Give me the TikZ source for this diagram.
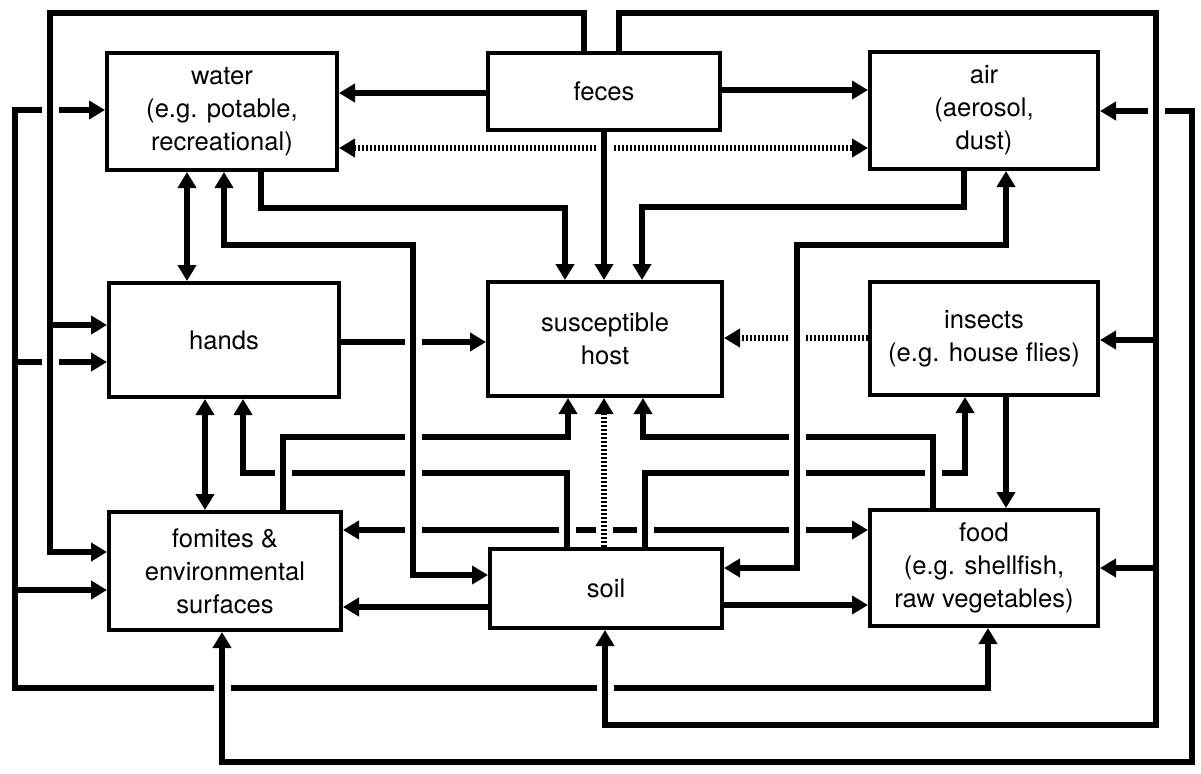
\documentclass[tikz,border=0pt]{standalone}
\usepackage{fontspec}
\setmainfont{TeX Gyre Heros}
\usetikzlibrary{arrows.meta,backgrounds}

\tikzset{
  box/.style={draw, line width=2pt, inner sep=0pt, align=center,
    font=\fontsize{12.8}{16.5}\selectfont},
  link/.style={line width=3pt, -{Triangle[length=8pt,width=9pt]}},
  twolink/.style={line width=3pt, {Triangle[length=8pt,width=9pt]}-{Triangle[length=8pt,width=9pt]}},
  dots/.style={dash pattern=on 1pt off 1pt},
  bridge/.style={preaction={draw, white, line width=8.5pt, -}},
}

\begin{document}
\begin{tikzpicture}[x=0.5pt,y=-0.5pt]
\useasboundingbox (0,0) rectangle (1201,773);

    \node[box, minimum width=115pt, minimum height=58.5pt] (water) at (222,111.5) {water\\(e.g. potable,\\recreational)};
    \node[box, minimum width=116pt, minimum height=38.5pt] (feces) at (604,91.5) {feces};
    \node[box, minimum width=114pt, minimum height=58.5pt] (air) at (984,110.5) {air\\(aerosol,\\dust)};
    \node[box, minimum width=115pt, minimum height=57pt] (hands) at (224,340) {hands};
    \node[box, minimum width=117pt, minimum height=57pt] (host) at (605,339) {susceptible\\host};
    \node[box, minimum width=114pt, minimum height=56.5pt] (insects) at (984,338.5) {insects\\(e.g. house flies)};
    \node[box, minimum width=116pt, minimum height=59pt] (fomites) at (225,571) {fomites \&\\environmental\\surfaces};
    \node[box, minimum width=116pt, minimum height=39.5pt] (soil) at (606,588.5) {soil};
    \node[box, minimum width=114pt, minimum height=58pt] (food) at (984,568) {food\\(e.g. shellfish,\\raw vegetables)};

\begin{scope}[on background layer]
    % outer loops
    \draw[twolink] (water.west |- 0,110) -- (15,110) -- (15,688) -- (988,688) -- (food.south -| 988,0);
    \draw[link] (15,362) -- (hands.west |- 0,362);
    \draw[link] (15,590) -- (fomites.west |- 0,590);
    \draw[twolink, bridge] (fomites.south -| 222,0) -- (222,762) -- (1192,762) -- (1192,111) -- (air.east |- 0,111);
    \draw[link, bridge] (feces.north -| 619,0) -- (619,13) -- (1156,13) -- (1156,725) -- (605,725) -- (soil.south -| 605,0);
    \draw[link] (1156,340) -- (insects.east |- 0,340);
    \draw[link] (1156,568) -- (food.east |- 0,568);
    \draw[link, bridge] (feces.north -| 584,0) -- (584,13) -- (50,13) -- (50,552) -- (fomites.west |- 0,552);
    \draw[link] (50,325) -- (hands.west |- 0,325);

    % feces
    \draw[link] (feces.west |- 0,93) -- (water.east |- 0,93);
    \draw[link] (feces.east |- 0,90) -- (air.west |- 0,90);
    \draw[twolink, dots] (water.east |- 0,148) -- (air.west |- 0,148);
    \draw[link, bridge] (feces.south) -- (feces.south |- host.north);
    \draw[link] (water.south -| 261,0) -- (261,208) -- (565,208) -- (host.north -| 565,0);
    \draw[link] (air.south -| 964,0) -- (964,207) -- (642,207) -- (host.north -| 642,0);

    % left and right columns
    \draw[twolink] (water.south -| 187,0) -- (hands.north -| 187,0);
    \draw[twolink] (hands.south -| 205,0) -- (fomites.north -| 205,0);
    \draw[link] (insects.south -| 1006,0) -- (food.north -| 1006,0);
    \draw[link] (hands.east |- 0,342) -- (host.west |- 0,342);
    \draw[link, dots] (insects.west |- 0,338) -- (host.east |- 0,338);

    % middle band
    \draw[twolink] (fomites.east |- 0,530) -- (food.west |- 0,530);
    \draw[link, bridge] (soil.north -| 567,0) -- (567,473) -- (243,473) -- (hands.south -| 243,0);
    \draw[link, bridge] (soil.north -| 645,0) -- (645,473) -- (965,473) -- (insects.south -| 965,0);
    \draw[link, bridge] (fomites.north -| 283,0) -- (283,437) -- (568,437) -- (host.south -| 568,0);
    \draw[link, bridge] (food.north -| 933,0) -- (933,437) -- (643,437) -- (host.south -| 643,0);
    \draw[link, dots, bridge] (soil.north -| 604,0) -- (host.south -| 604,0);
    \draw[twolink, bridge] (water.south -| 224,0) -- (224,245) -- (413,245) -- (413,575) -- (soil.west |- 0,575);
    \draw[twolink, bridge] (air.south -| 1006,0) -- (1006,245) -- (797,245) -- (797,568) -- (soil.east |- 0,568);

    % soil
    \draw[link] (soil.west |- 0,607) -- (fomites.east |- 0,607);
    \draw[link] (soil.east |- 0,605) -- (food.west |- 0,605);
\end{scope}
\end{tikzpicture}
\end{document}
